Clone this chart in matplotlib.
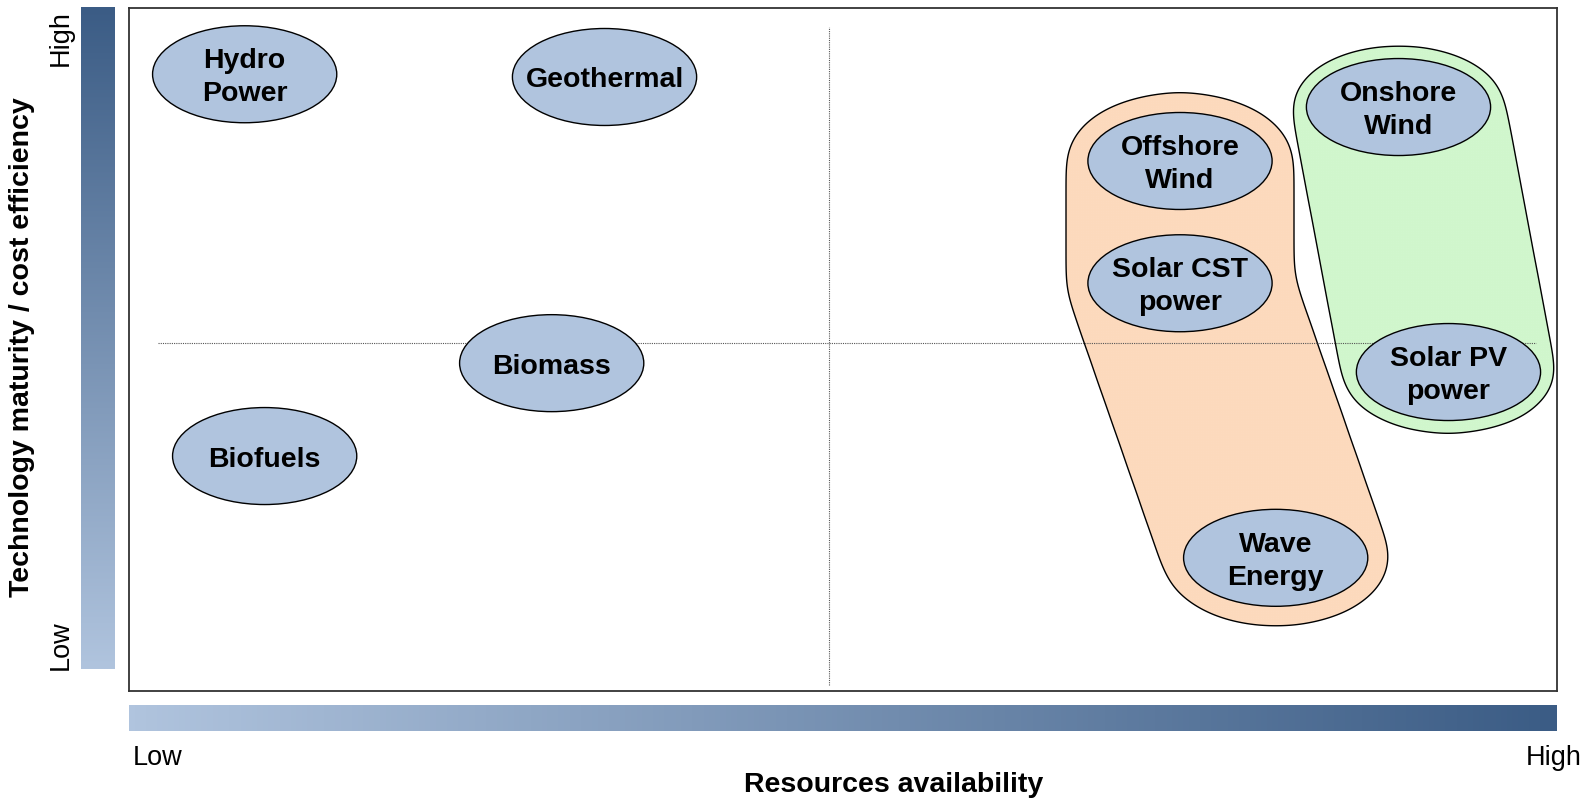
import numpy as np
import matplotlib.pyplot as plt
from matplotlib.patches import Ellipse, Polygon
from matplotlib.colors import LinearSegmentedColormap
from matplotlib.path import Path
import contourpy

plt.rcParams['font.family'] = ['Liberation Sans', 'DejaVu Sans']
plt.rcParams['hatch.linewidth'] = 0.8

# technologies placed by resource availability (x) and maturity / cost efficiency (y), scale 0-100
techs = ['Hydro\nPower', 'Geothermal', 'Biomass', 'Biofuels', 'Offshore\nWind',
         'Solar CST\npower', 'Onshore\nWind', 'Solar PV\npower', 'Wave\nEnergy']
resource = [8.1, 33.3, 29.6, 9.5, 73.6, 73.6, 88.9, 92.4, 80.3]
maturity = [90.3, 89.9, 48.0, 34.4, 77.6, 59.7, 85.5, 46.7, 19.5]

# highlighted groups (chained in this order)
orange_group = ['Offshore\nWind', 'Solar CST\npower', 'Wave\nEnergy']
green_group = ['Onshore\nWind', 'Solar PV\npower']

# quadrant split
x_split = 49.0
y_split = 50.9

W, H = 1585, 801
AX_W, AX_H = 1428, 683   # plot box in pixels
EW, EH = 12.9, 14.2      # bubble size in data units
LIGHT = '#b0c4de'
DARK = '#3b5c85'

PXX, PXY = AX_W / 100, AX_H / 100
gx = np.arange(-60, AX_W + 60, 2.0)
gy = np.arange(-60, AX_H + 60, 2.0)
GX, GY = np.meshgrid(gx, gy)
grid_pts = np.c_[GX.ravel(), GY.ravel()]


def hull(pts):
    pts = sorted(set(map(tuple, np.round(pts, 3))))

    def cross(o, a, b):
        return (a[0] - o[0]) * (b[1] - o[1]) - (a[1] - o[1]) * (b[0] - o[0])
    lower, upper = [], []
    for p in pts:
        while len(lower) >= 2 and cross(lower[-2], lower[-1], p) <= 0:
            lower.pop()
        lower.append(p)
    for p in reversed(pts):
        while len(upper) >= 2 and cross(upper[-2], upper[-1], p) <= 0:
            upper.pop()
        upper.append(p)
    return np.array(lower[:-1] + upper[:-1])


def blob(members, padx, pady, sigma=14):
    # union of padded hulls of consecutive bubbles, softened with a blur
    t = np.linspace(0, 2 * np.pi, 120, endpoint=False)
    rings = []
    for name in members:
        i = techs.index(name)
        cx, cy = resource[i] * PXX, maturity[i] * PXY
        rings.append(np.c_[cx + (EW * PXX / 2 + padx) * np.cos(t),
                           cy + (EH * PXY / 2 + pady) * np.sin(t)])
    mask = np.zeros(len(grid_pts), bool)
    for a, b in zip(rings[:-1], rings[1:]):
        mask |= Path(hull(np.vstack([a, b]))).contains_points(grid_pts)
    z = mask.reshape(GX.shape).astype(float)
    r = int(3 * sigma / 2)
    k = np.exp(-0.5 * (np.arange(-r, r + 1) * 2 / sigma) ** 2)
    k /= k.sum()
    z = np.apply_along_axis(lambda v: np.convolve(v, k, 'same'), 0, z)
    z = np.apply_along_axis(lambda v: np.convolve(v, k, 'same'), 1, z)
    lines = contourpy.contour_generator(gx, gy, z).lines(0.5)
    seg = max(lines, key=len)
    return np.c_[seg[:, 0] / PXX, seg[:, 1] / PXY]


fig = plt.figure(figsize=(W / 100, H / 100), dpi=100)


def px_axes(x0, y0, x1, y1):
    return fig.add_axes([x0 / W, 1 - y1 / H, (x1 - x0) / W, (y1 - y0) / H])


ax = px_axes(129, 8, 1557, 691)
ax.set_xlim(0, 100)
ax.set_ylim(0, 100)
ax.set_xticks([])
ax.set_yticks([])
for sp in ax.spines.values():
    sp.set_color('#333333')
    sp.set_linewidth(1.3)

# group blobs
for members, pad, fc, hc in [(orange_group, (22, 20), '#feeadb', '#fcd9bc'),
                             (green_group, (15, 13), '#e9fce8', '#d0f6cc')]:
    poly = blob(members, *pad)
    ax.add_patch(Polygon(poly, closed=True, facecolor=fc, edgecolor='none', zorder=1))
    ax.add_patch(Polygon(poly, closed=True, facecolor='none', edgecolor=hc, hatch='+' * 10,
                         linewidth=0, zorder=1.1))
    ax.add_patch(Polygon(poly, closed=True, facecolor='none', edgecolor='black',
                         linewidth=1.0, zorder=1.2))

# quadrant lines
ax.plot([x_split, x_split], [0.9, 97.2], color='#555555', lw=0.8, ls=(0, (1, 1)), zorder=2)
ax.plot([2.0, 98.5], [y_split, y_split], color='#555555', lw=0.8, ls=(0, (1, 1)), zorder=2)

# bubbles
for name, x, y in zip(techs, resource, maturity):
    ax.add_patch(Ellipse((x, y), EW, EH, facecolor=LIGHT, edgecolor='black', lw=1.0, zorder=3))
    ax.annotate(name, (x, y), xytext=(0, -2.5), textcoords='offset points',
                ha='center', va='center', fontsize=20.5, fontweight='bold',
                linespacing=1.36, zorder=4)

# gradient bars
cmap = LinearSegmentedColormap.from_list('grad', [LIGHT, DARK])
grad = np.linspace(0, 1, 256)

axl = px_axes(81, 7, 115, 669)
axl.imshow(grad[:, None], cmap=cmap, aspect='auto', origin='lower')
axl.axis('off')

axb = px_axes(129, 705, 1557, 731)
axb.imshow(grad[None, :], cmap=cmap, aspect='auto')
axb.axis('off')


def ftext(x, y, s, **kw):
    fig.text(x / W, 1 - y / H, s, **kw)


ftext(61, 38, 'High', rotation=90, ha='center', va='center', fontsize=19.5)
ftext(61, 645, 'Low', rotation=90, ha='center', va='center', fontsize=19.5)
ftext(22, 347, 'Technology maturity / cost efficiency', rotation=90, ha='center',
      va='center', fontsize=20.5, fontweight='bold')
ftext(133, 758, 'Low', ha='left', va='center', fontsize=19.5)
ftext(1582, 758, 'High', ha='right', va='center', fontsize=19.5)
ftext(894, 785, 'Resources availability', ha='center', va='center', fontsize=20.5,
      fontweight='bold')

fig.savefig('out.png', dpi=100)
